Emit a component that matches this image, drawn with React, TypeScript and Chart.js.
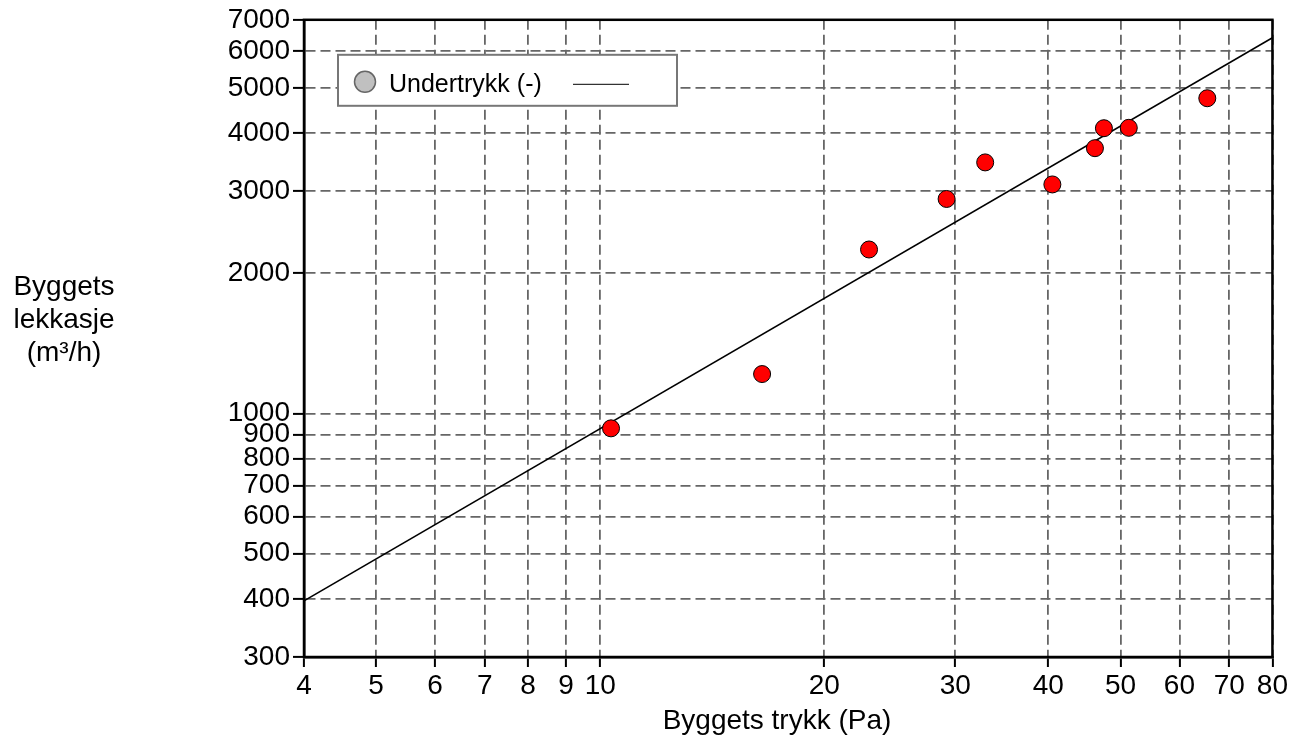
import React, { useEffect, useRef } from "react";
import { Chart, registerables } from "chart.js";

Chart.register(...registerables);

// ---- data ----
const pressure = [10.34, 16.5, 22.97, 29.2, 32.9, 40.5, 46.2, 47.5, 51.3, 65.4];
const leakage = [929, 1215, 2249, 2887, 3459, 3102, 3711, 4096, 4104, 4750];
const fitPressure = [4, 80];
const fitLeakage = [396, 6406];
const xTicks = [4, 5, 6, 7, 8, 9, 10, 20, 30, 40, 50, 60, 70, 80];
const yTicks = [300, 400, 500, 600, 700, 800, 900, 1000, 2000, 3000, 4000, 5000, 6000, 7000];
const xTitle = "Byggets trykk (Pa)";
const yTitleLines = ["Byggets", "lekkasje", "(m³/h)"];
const legendLabel = "Undertrykk (-)";

const FONT = "'Liberation Sans', Arial, sans-serif";

const decorPlugin = {
  id: "decor",
  afterDraw(chart: any) {
    const { ctx, chartArea: a } = chart;
    ctx.save();
    // frame
    ctx.strokeStyle = "#000";
    ctx.lineWidth = 2.5;
    ctx.setLineDash([]);
    ctx.strokeRect(a.left, a.top, a.right - a.left, a.bottom - a.top);

    // legend box
    const lx = a.left + 34;
    const ly = a.top + 35;
    const lw = 339;
    const lh = 51;
    ctx.fillStyle = "#fff";
    ctx.fillRect(lx, ly, lw, lh);
    ctx.strokeStyle = "#777";
    ctx.lineWidth = 2;
    ctx.strokeRect(lx, ly, lw, lh);
    ctx.beginPath();
    ctx.arc(lx + 27, ly + 27, 10.5, 0, Math.PI * 2);
    ctx.fillStyle = "#c0c0c0";
    ctx.fill();
    ctx.strokeStyle = "#666";
    ctx.lineWidth = 1.5;
    ctx.stroke();
    ctx.fillStyle = "#000";
    ctx.font = `25px ${FONT}`;
    ctx.textAlign = "left";
    ctx.textBaseline = "alphabetic";
    ctx.fillText(legendLabel, lx + 51, ly + 37);
    ctx.beginPath();
    ctx.strokeStyle = "#000";
    ctx.lineWidth = 1;
    ctx.moveTo(lx + 235, ly + 29.5);
    ctx.lineTo(lx + 291, ly + 29.5);
    ctx.stroke();

    // y-axis title (horizontal, 3 lines)
    ctx.font = `28px ${FONT}`;
    ctx.textAlign = "center";
    ctx.fillStyle = "#000";
    const baselines = [295, 328, 361];
    yTitleLines.forEach((t, i) => ctx.fillText(t, 64, baselines[i]));

    // x-axis title
    ctx.fillText(xTitle, 777, 729);
    ctx.restore();
  },
};

export default function App() {
  const ref = useRef<HTMLCanvasElement | null>(null);

  useEffect(() => {
    document.body.style.margin = "0";
    const canvas = ref.current;
    if (!canvas) return;
    const chart = new Chart(canvas, {
      type: "scatter",
      data: {
        datasets: [
          {
            label: "points",
            data: pressure.map((p, i) => ({ x: p, y: leakage[i] })),
            backgroundColor: "#ff0000",
            borderColor: "#000",
            borderWidth: 1,
            pointRadius: 8.5,
            order: 0,
          },
          {
            label: "fit",
            data: fitPressure.map((p, i) => ({ x: p, y: fitLeakage[i] })),
            showLine: true,
            borderColor: "#000",
            borderWidth: 1.5,
            pointRadius: 0,
            fill: false,
            order: 1,
          } as any,
        ],
      },
      options: {
        responsive: false,
        animation: false,
        devicePixelRatio: 1,
        layout: { padding: { top: 18, right: 16, bottom: 0, left: 0 } },
        plugins: {
          legend: { display: false },
          tooltip: { enabled: false },
          title: { display: false },
        },
        scales: {
          x: {
            type: "logarithmic",
            position: "bottom",
            min: 4,
            max: 80,
            afterBuildTicks: (s: any) => {
              s.ticks = xTicks.map((v) => ({ value: v }));
            },
            afterFit: (s: any) => {
              s.height = 79;
            },
            ticks: {
              callback: (v: any) => String(v),
              autoSkip: false,
              maxRotation: 0,
              minRotation: 0,
              padding: 2,
              color: "#000",
              font: { size: 28, family: FONT },
            },
            grid: {
              color: "#666",
              lineWidth: 1.8,
              tickColor: "#000",
              tickWidth: 2,
              tickLength: 10,
              tickBorderDash: [],
            },
            border: { display: true, color: "#000", width: 2.5, dash: [10, 5] },
          },
          y: {
            type: "logarithmic",
            position: "left",
            min: 300,
            max: 7000,
            afterBuildTicks: (s: any) => {
              s.ticks = yTicks.map((v) => ({ value: v }));
            },
            afterFit: (s: any) => {
              s.width = 304;
            },
            ticks: {
              callback: (v: any) => String(v),
              autoSkip: false,
              padding: 3,
              color: "#000",
              font: { size: 28, family: FONT },
            },
            grid: {
              color: "#666",
              lineWidth: 1.8,
              tickColor: "#000",
              tickWidth: 2,
              tickLength: 11,
              tickBorderDash: [],
            },
            border: { display: true, color: "#000", width: 2.5, dash: [10, 5] },
          },
        },
      } as any,
      plugins: [decorPlugin],
    });
    return () => chart.destroy();
  }, []);

  return <canvas ref={ref} width={1290} height={736} style={{ display: "block" }} />;
}
